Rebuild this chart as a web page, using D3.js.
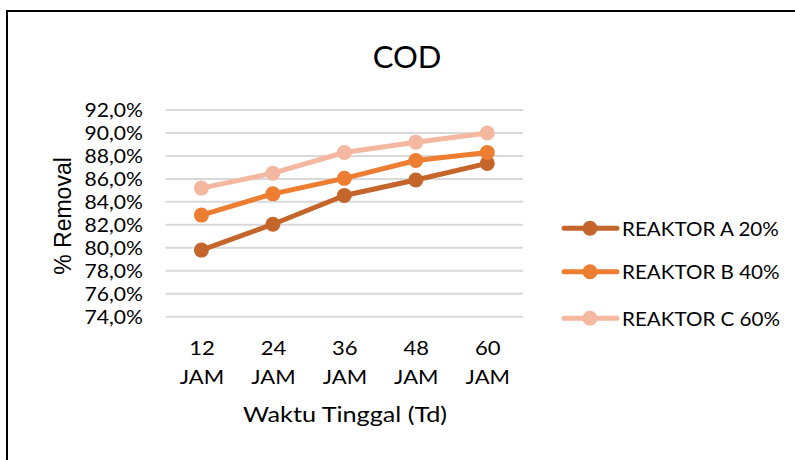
<!DOCTYPE html>
<html><head><meta charset="utf-8">
<script src="https://cdn.jsdelivr.net/npm/d3@7"></script>
<style>html,body{margin:0;padding:0;background:#fff;}svg{display:block;}</style>
</head><body>
<svg id="chart" width="795" height="460"></svg>
<script>
const categories = ["12 JAM", "24 JAM", "36 JAM", "48 JAM", "60 JAM"];
const seriesNames = ["REAKTOR A 20%", "REAKTOR B 40%", "REAKTOR C 60%"];
const reaktorA = [79.8, 82.05, 84.55, 85.9, 87.35];
const reaktorB = [82.85, 84.7, 86.05, 87.6, 88.3];
const reaktorC = [85.2, 86.5, 88.3, 89.2, 90.0];
const yTicks = [74, 76, 78, 80, 82, 84, 86, 88, 90, 92];
const colors = ["#C4652B", "#ED7D31", "#F4B8A0"];

const series = [reaktorA, reaktorB, reaktorC].map((v, i) => ({name: seriesNames[i], values: v, color: colors[i]}));

const svg = d3.select("#chart");
const font = "Lato, 'Open Sans', sans-serif";

// widen glyphs horizontally (reference text is drawn wider than the font)
function widen(sel, f) {
  sel.each(function() {
    const w = this.getComputedTextLength();
    d3.select(this).attr("textLength", w * f).attr("lengthAdjust", "spacingAndGlyphs");
  });
}

// outer frame
svg.append("path").attr("d", "M7,461 L7,11 L796,11").attr("fill", "none").attr("stroke", "#000").attr("stroke-width", 2);

const x = d3.scalePoint().domain(categories).range([165.7, 523]).padding(0.5);
const y = d3.scaleLinear().domain([74, 92]).range([316.7, 110]);

// grid
svg.append("g").selectAll("line").data(yTicks).join("line")
  .attr("x1", 165.7).attr("x2", 523)
  .attr("y1", d => y(d)).attr("y2", d => y(d))
  .attr("stroke", "#d9d9d9").attr("stroke-width", 2);

// y axis labels
const yAxis = d3.axisLeft(y).tickValues(yTicks).tickSize(0).tickPadding(0)
  .tickFormat(d => d.toFixed(1).replace(".", ",") + "%");
const gy = svg.append("g").attr("transform", "translate(143,0)").call(yAxis);
gy.select(".domain").remove();
gy.selectAll("text").attr("font-family", font).attr("font-size", 19).attr("fill", "#000").attr("dy", "0.36em");
widen(gy.selectAll("text"), 1.11);

// x axis labels
const xAxis = d3.axisBottom(x).tickSize(0).tickFormat("");
const gx = svg.append("g").attr("transform", "translate(0,316.7)").call(xAxis);
gx.select(".domain").remove();
gx.selectAll(".tick").each(function(d) {
  const parts = d.split(" ");
  const g = d3.select(this);
  parts.forEach((p, k) => {
    g.append("text").attr("font-family", font).attr("font-size", 20)
      .attr("fill", "#000").attr("text-anchor", "middle")
      .attr("x", 0).attr("y", 38.5 + k * 29).text(p);
  });
});
widen(gx.selectAll("text"), 1.1);

// lines
const line = d3.line().x((d, i) => x(categories[i])).y(d => y(d));
const gs = svg.append("g");
series.forEach(s => {
  gs.append("path").datum(s.values).attr("d", line).attr("fill", "none")
    .attr("stroke", s.color).attr("stroke-width", 5).attr("stroke-linejoin", "round").attr("stroke-linecap", "round");
  gs.append("g").selectAll("circle").data(s.values).join("circle")
    .attr("cx", (d, i) => x(categories[i])).attr("cy", d => y(d)).attr("r", 7.5).attr("fill", s.color);
});

// title
svg.append("text").attr("x", 407).attr("y", 68).attr("text-anchor", "middle")
  .attr("font-family", font).attr("font-size", 31).attr("fill", "#000").text("COD");

// axis titles
const xt = svg.append("text").attr("x", 345).attr("y", 422).attr("text-anchor", "middle")
  .attr("font-family", font).attr("font-size", 21).attr("fill", "#000").text("Waktu Tinggal (Td)");
widen(xt, 1.2);
svg.append("text").attr("transform", "translate(71,216) rotate(-90)").attr("text-anchor", "middle")
  .attr("font-family", "'Liberation Sans', Arial, sans-serif").attr("font-size", 23).attr("fill", "#000").text("% Removal");

// legend
const legY = [228.3, 271.7, 318.3];
const lg = svg.append("g");
series.forEach((s, i) => {
  const g = lg.append("g").attr("transform", `translate(0,${legY[i]})`);
  g.append("line").attr("x1", 564).attr("x2", 617).attr("y1", 0).attr("y2", 0)
    .attr("stroke", s.color).attr("stroke-width", 5).attr("stroke-linecap", "round");
  g.append("circle").attr("cx", 590).attr("cy", 0).attr("r", 7.5).attr("fill", s.color);
  const t = g.append("text").attr("x", 622).attr("y", 0).attr("dy", "0.36em")
    .attr("font-family", font).attr("font-size", 20).attr("fill", "#000").text(s.name);
  widen(t, 1.03);
});
</script>
</body></html>
